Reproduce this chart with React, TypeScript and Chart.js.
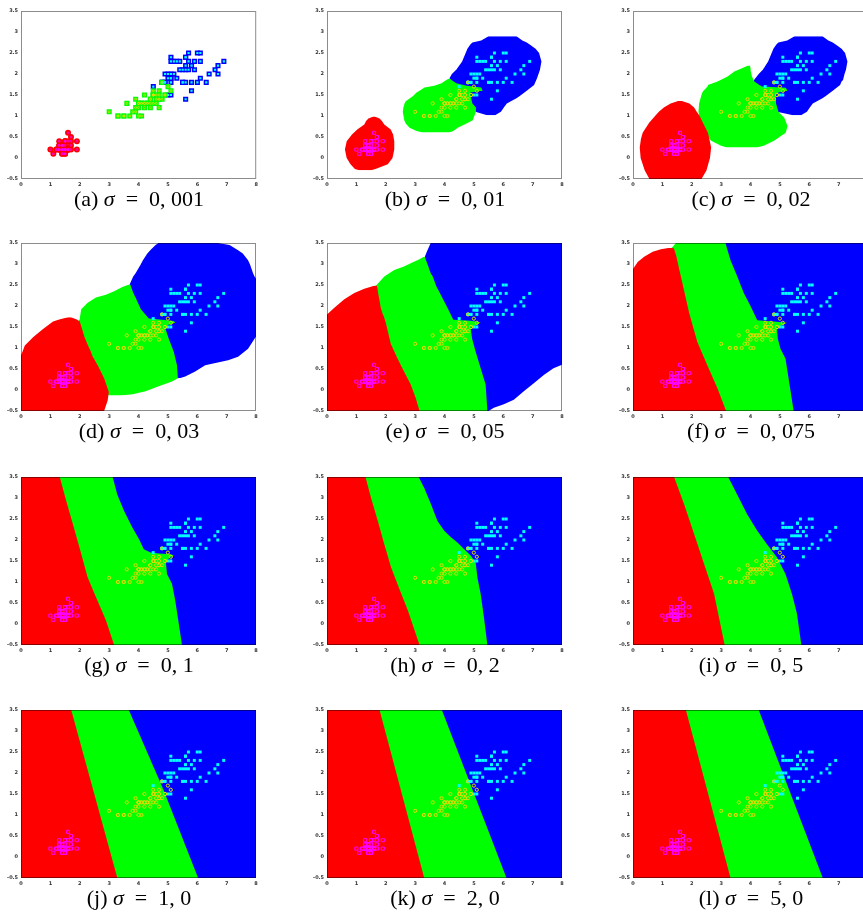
import React, { useEffect, useRef } from 'react';
import { Chart, registerables } from 'chart.js';
Chart.register(...registerables);

// ---------- axes ----------
const X_TICKS = [0, 1, 2, 3, 4, 5, 6, 7, 8];
const X_TICK_LABELS = ['0', '1', '2', '3', '4', '5', '6', '7', '8'];
const Y_TICKS = [-0.5, 0, 0.5, 1, 1.5, 2, 2.5, 3, 3.5];
const Y_TICK_LABELS = ['-0.5', '0', '0.5', '1', '1.5', '2', '2.5', '3', '3.5'];

// ---------- data points (petal length, petal width) ----------
const SETOSA_LEN = [1.4,1.4,1.3,1.5,1.4,1.7,1.4,1.5,1.4,1.5,1.5,1.6,1.4,1.1,1.2,1.5,1.3,1.4,1.7,1.5,1.7,1.5,1.0,1.7,1.9,1.6,1.6,1.5,1.4,1.6,1.6,1.5,1.5,1.4,1.5,1.2,1.3,1.4,1.3,1.5,1.3,1.3,1.3,1.6,1.9,1.4,1.6,1.4,1.5,1.4];
const SETOSA_WID = [0.2,0.2,0.2,0.2,0.2,0.4,0.3,0.2,0.2,0.1,0.2,0.2,0.1,0.1,0.2,0.4,0.4,0.3,0.3,0.3,0.2,0.4,0.2,0.5,0.2,0.2,0.4,0.2,0.2,0.2,0.2,0.4,0.1,0.2,0.2,0.2,0.2,0.1,0.2,0.2,0.3,0.3,0.2,0.6,0.4,0.3,0.2,0.2,0.2,0.2];
const VERSI_LEN = [4.7,4.5,4.9,4.0,4.6,4.5,4.7,3.3,4.6,3.9,3.5,4.2,4.0,4.7,3.6,4.4,4.5,4.1,4.5,3.9,4.8,4.0,4.9,4.7,4.3,4.4,4.8,5.0,4.5,3.5,3.8,3.7,3.9,5.1,4.5,4.5,4.7,4.4,4.1,4.0,4.4,4.6,4.0,3.3,4.2,4.2,4.2,4.3,3.0,4.1];
const VERSI_WID = [1.4,1.5,1.5,1.3,1.5,1.3,1.6,1.0,1.3,1.4,1.0,1.5,1.0,1.4,1.3,1.4,1.5,1.0,1.5,1.1,1.8,1.3,1.5,1.2,1.3,1.4,1.4,1.7,1.5,1.0,1.1,1.0,1.2,1.6,1.5,1.6,1.5,1.3,1.3,1.3,1.2,1.4,1.2,1.0,1.3,1.2,1.3,1.3,1.1,1.3];
const VIRG_LEN = [6.0,5.1,5.9,5.6,5.8,6.6,4.5,6.3,5.8,6.1,5.1,5.3,5.5,5.0,5.1,5.3,5.5,6.7,6.9,5.0,5.7,4.9,6.7,4.9,5.7,6.0,4.8,4.9,5.6,5.8,6.1,6.4,5.6,5.1,5.6,6.1,5.6,5.5,4.8,5.4,5.6,5.1,5.1,5.9,5.7,5.2,5.0,5.2,5.4,5.1];
const VIRG_WID = [2.5,1.9,2.1,1.8,2.2,2.1,1.7,1.8,1.8,2.5,2.0,1.9,2.1,2.0,2.4,2.3,1.8,2.2,2.3,1.5,2.3,2.0,2.0,1.8,2.1,1.8,1.8,1.8,2.1,1.6,1.9,2.0,2.2,1.5,1.4,2.3,2.4,1.8,1.8,2.1,2.4,2.3,1.9,2.3,2.5,2.3,1.9,2.0,2.3,1.8];

// ---------- panels ----------
const PANEL_LETTERS = ['a','b','c','d','e','f','g','h','i','j','k','l'];
const PANEL_SIGMAS = ['0, 001','0, 01','0, 02','0, 03','0, 05','0, 075','0, 1','0, 2','0, 5','1, 0','2, 0','5, 0'];

// ---------- decision regions, rows of [y, xLeft, xRight] ----------
const B_RED = [[-0.29,1.1,1.5],[-0.26,0.95,1.65],[-0.15,0.8,2.07],[0.0,0.67,2.23],[0.2,0.61,2.29],[0.4,0.67,2.29],[0.56,0.85,2.25],[0.68,1.03,2.17],[0.8,1.27,1.95],[0.88,1.33,1.87],[0.94,1.41,1.79],[0.99,1.58,1.62]];
const B_GREEN = [[0.61,3.25,4.15],[0.64,3.05,4.3],[0.72,2.81,4.45],[0.82,2.68,4.75],[0.9,2.63,4.96],[1.1,2.58,5.07],[1.2,2.6,5.07],[1.3,2.64,4.95],[1.35,2.68,4.93],[1.47,2.92,4.9],[1.56,3.05,4.88],[1.6,3.15,5.3],[1.68,3.32,5.25],[1.72,3.65,4.75],[1.78,3.9,4.4],[1.85,4.05,4.25],[1.89,4.15,4.18]];
const B_BLUE = [[1.02,5.45,5.72],[1.1,5.05,5.92],[1.2,4.9,6.02],[1.3,4.85,6.12],[1.42,4.85,6.45],[1.47,4.8,6.55],[1.6,4.7,6.8],[1.74,4.3,7.05],[1.9,4.17,7.15],[2.0,4.25,7.2],[2.1,4.4,7.25],[2.3,4.6,7.3],[2.5,4.72,7.22],[2.6,4.78,7.1],[2.7,4.88,6.9],[2.75,4.95,6.8],[2.8,5.25,6.65],[2.9,5.5,6.45]];

const C_RED = [[-0.5,0.56,2.33],[-0.3,0.4,2.5],[0.0,0.26,2.62],[0.25,0.23,2.66],[0.45,0.27,2.6],[0.6,0.33,2.55],[0.84,0.55,2.38],[1.0,0.75,2.27],[1.1,0.88,2.17],[1.2,1.05,2.08],[1.3,1.28,1.92],[1.36,1.55,1.65]];
const C_GREEN = [[0.25,3.2,4.2],[0.29,3.0,4.45],[0.41,2.66,4.8],[0.6,2.43,5.2],[0.76,2.33,5.26],[0.96,2.26,5.15],[1.1,2.23,4.95],[1.3,2.25,4.87],[1.5,2.33,4.86],[1.56,2.36,4.95],[1.6,2.4,5.26],[1.67,2.5,5.2],[1.7,2.52,4.4],[1.74,2.55,4.3],[1.82,2.88,4.13],[1.94,3.22,4.05],[2.06,3.45,4.01],[2.14,3.73,4.0],[2.2,3.92,3.98]];
const C_BLUE = [[1.02,5.45,5.72],[1.1,4.9,5.92],[1.2,4.8,6.02],[1.3,4.7,6.12],[1.42,4.6,6.45],[1.47,4.6,6.55],[1.6,4.4,6.8],[1.74,4.2,7.05],[1.82,4.1,7.1],[1.86,4.12,7.15],[2.0,4.28,7.2],[2.1,4.42,7.25],[2.3,4.6,7.3],[2.5,4.72,7.22],[2.6,4.78,7.1],[2.7,4.88,6.9],[2.75,4.95,6.8],[2.8,5.25,6.65],[2.9,5.5,6.45]];

const D_RED = [[-0.5,-0.1,2.83],[-0.25,-0.1,2.95],[-0.05,-0.1,2.99],[0.28,-0.1,2.83],[0.59,-0.1,2.61],[0.8,-0.1,2.44],[0.83,0.0,2.42],[0.91,0.05,2.38],[1.06,0.13,2.28],[1.26,0.42,2.16],[1.45,0.75,2.08],[1.63,1.09,2.0],[1.68,1.3,1.9],[1.73,1.6,1.7]];
const D_GREEN = [[-0.13,2.9,3.4],[-0.1,2.9,3.8],[-0.03,2.9,4.24],[0.09,2.8,4.69],[0.2,2.7,5.14],[0.28,2.6,5.34],[0.59,2.4,5.31],[0.91,2.2,5.2],[1.22,2.0,5.03],[1.45,1.9,4.92],[1.55,1.9,5.0],[1.6,1.9,5.25],[1.64,1.95,5.2],[1.67,1.98,4.8],[1.7,2.0,4.35],[1.88,2.04,4.13],[1.92,2.05,4.08],[2.08,2.27,3.98],[2.2,2.55,3.9],[2.27,2.89,3.85],[2.35,3.17,3.8],[2.45,3.45,3.75],[2.51,3.68,3.72]];
const D_BLUE = [[0.28,5.3,5.4],[0.32,5.25,5.59],[0.44,5.2,5.93],[0.59,5.1,6.27],[0.71,4.8,7.05],[0.79,4.5,7.39],[0.98,4.0,7.73],[1.22,3.8,7.95],[1.38,3.7,8.1],[2.51,3.7,8.1],[2.55,3.72,8.1],[2.7,3.82,7.95],[2.78,3.9,7.9],[2.98,4.07,7.8],[3.09,4.15,7.73],[3.25,4.3,7.55],[3.33,4.4,7.39],[3.45,4.58,7.1],[3.5,4.68,6.7]];

const E_RED = [[-0.5,-0.1,3.15],[-0.19,-0.1,3.02],[0.13,-0.1,2.85],[0.44,-0.1,2.62],[0.75,-0.1,2.4],[1.1,-0.1,2.17],[1.61,-0.1,2.0],[1.78,-0.1,1.92],[1.8,0.0,1.9],[1.96,0.25,1.83],[2.16,0.59,1.78],[2.31,0.93,1.74],[2.41,1.27,1.72],[2.47,1.55,1.7],[2.49,1.65,1.7]];
const E_GREEN = [[-0.5,3.0,5.46],[0.13,2.8,5.4],[0.91,2.0,5.06],[1.22,1.8,4.94],[1.49,1.7,4.89],[1.55,1.7,5.1],[1.61,1.7,5.23],[1.65,1.7,4.9],[1.67,1.7,4.3],[1.96,1.7,4.1],[2.35,1.65,3.81],[2.47,1.65,3.72],[2.7,1.95,3.6],[2.78,2.12,3.53],[2.86,2.29,3.49],[2.94,2.62,3.45],[3.02,2.85,3.41],[3.11,3.13,3.36],[3.17,3.3,3.33]];
const E_BLUE = [[-0.5,5.4,5.5],[-0.42,5.3,5.68],[-0.34,5.15,6.02],[-0.23,4.95,6.36],[-0.03,4.55,6.7],[0.16,4.2,7.04],[0.36,3.8,7.38],[0.52,3.5,7.71],[0.63,3.5,8.1],[3.17,3.33,8.1],[3.33,3.42,8.1],[3.5,3.53,8.1]];

const F_RED = [[-0.5,-0.1,3.17],[0.05,-0.1,2.87],[0.59,-0.1,2.53],[1.14,-0.1,2.19],[1.84,-0.1,1.91],[2.7,-0.1,1.63],[2.88,0.0,1.57],[3.05,0.16,1.52],[3.17,0.38,1.48],[3.29,0.67,1.43],[3.35,0.95,1.4],[3.38,1.2,1.38]];
const F_GREEN = [[-0.5,3.0,5.47],[0.75,2.3,5.19],[0.98,2.1,5.02],[1.22,2.0,4.93],[1.49,1.8,4.9],[1.55,1.8,5.1],[1.6,1.8,5.24],[1.63,1.8,4.8],[1.66,1.8,4.23],[2.0,1.6,4.0],[2.31,1.5,3.77],[2.7,1.4,3.55],[3.09,1.3,3.32],[3.37,1.3,3.2],[3.5,1.46,3.15]];
const F_BLUE = [[-0.5,5.4,8.1],[0.75,5.0,8.1],[1.49,4.5,8.1],[1.66,4.1,8.1],[2.0,3.9,8.1],[2.31,3.7,8.1],[2.7,3.45,8.1],[3.09,3.2,8.1],[3.5,3.05,8.1]];

// full-height boundaries, rows of [y, x]
const G_RED_GREEN = [[-0.5,3.17],[0.09,2.89],[0.64,2.55],[1.11,2.27],[1.82,1.99],[2.37,1.77],[2.93,1.54],[3.5,1.32]];
const G_GREEN_BLUE = [[-0.5,5.48],[0.01,5.37],[0.56,5.25],[0.96,5.14],[1.19,4.97],[1.49,4.93],[1.57,5.05],[1.63,5.2],[1.66,5.1],[1.68,4.7],[1.7,4.41],[1.78,4.18],[2.02,4.02],[2.3,3.79],[2.69,3.51],[3.08,3.28],[3.5,3.12]];
const H_RED_GREEN = [[-0.5,3.15],[0.33,2.75],[0.84,2.46],[1.35,2.18],[1.9,1.95],[2.45,1.73],[3.0,1.5],[3.5,1.31]];
const H_GREEN_BLUE = [[-0.5,5.46],[0.17,5.34],[0.72,5.23],[1.11,5.12],[1.47,5.06],[1.63,4.89],[1.78,4.67],[1.94,4.44],[2.07,4.21],[2.22,3.99],[2.45,3.76],[2.85,3.54],[3.24,3.31],[3.5,3.12]];
const I_RED_GREEN = [[-0.5,3.12],[0.72,2.76],[1.43,2.42],[2.14,2.08],[2.85,1.74],[3.5,1.4]];
const I_GREEN_BLUE = [[-0.5,5.73],[0.25,5.58],[0.72,5.41],[1.19,5.19],[1.59,4.9],[1.9,4.56],[2.22,4.23],[2.61,3.89],[3.08,3.55],[3.5,3.24]];
const J_RED_GREEN = [[-0.5,3.28],[3.5,1.71]];
const J_GREEN_BLUE = [[-0.5,6.03],[1.6,4.85],[3.5,3.67]];
const K_RED_GREEN = [[-0.5,3.31],[3.5,1.79]];
const K_GREEN_BLUE = [[-0.5,6.11],[3.5,3.91]];
const L_RED_GREEN = [[-0.5,3.32],[3.5,1.8]];
const L_GREEN_BLUE = [[-0.5,6.46],[3.5,4.28]];
const FULL_PLOT = [[-0.5,-0.1,8.1],[3.5,-0.1,8.1]];

const RED = '#ff0000';
const GREEN = '#00ff00';
const BLUE = '#0000ff';

const leftOf = (b: number[][]) => b.map(([y, x]) => [y, -0.1, x]);

const PANEL_REGIONS: [number[][], string][][] = [
  [],
  [[B_BLUE, BLUE], [B_GREEN, GREEN], [B_RED, RED]],
  [[C_BLUE, BLUE], [C_GREEN, GREEN], [C_RED, RED]],
  [[D_BLUE, BLUE], [D_GREEN, GREEN], [D_RED, RED]],
  [[E_BLUE, BLUE], [E_GREEN, GREEN], [E_RED, RED]],
  [[F_BLUE, BLUE], [F_GREEN, GREEN], [F_RED, RED]],
  [[FULL_PLOT, BLUE], [leftOf(G_GREEN_BLUE), GREEN], [leftOf(G_RED_GREEN), RED]],
  [[FULL_PLOT, BLUE], [leftOf(H_GREEN_BLUE), GREEN], [leftOf(H_RED_GREEN), RED]],
  [[FULL_PLOT, BLUE], [leftOf(I_GREEN_BLUE), GREEN], [leftOf(I_RED_GREEN), RED]],
  [[FULL_PLOT, BLUE], [leftOf(J_GREEN_BLUE), GREEN], [leftOf(J_RED_GREEN), RED]],
  [[FULL_PLOT, BLUE], [leftOf(K_GREEN_BLUE), GREEN], [leftOf(K_RED_GREEN), RED]],
  [[FULL_PLOT, BLUE], [leftOf(L_GREEN_BLUE), GREEN], [leftOf(L_RED_GREEN), RED]],
];

// ---------- layout ----------
const COL_LEFT = [21, 327, 633];
const ROW_TOP = [9, 241, 475, 708];
const PLOT_W = 236;
const PLOT_H = 170;
const AXIS_W = 20;
const AXIS_H = 12;
const PAD_T = 4;
const PAD_R = 4;

const pts = (xs: number[], ys: number[]) => xs.map((x, i) => ({ x, y: ys[i] }));

const framePlugin = {
  id: 'frame',
  afterDatasetsDraw(chart: any) {
    const { ctx, chartArea: a } = chart;
    ctx.save();
    ctx.strokeStyle = 'rgba(0,0,0,0.45)';
    ctx.lineWidth = 1;
    ctx.strokeRect(a.left + 0.5, a.top + 0.5, a.right - a.left - 1, a.bottom - a.top - 1);
    ctx.restore();
  },
};

function Panel({ index }: { index: number }) {
  const ref = useRef<HTMLCanvasElement | null>(null);
  useEffect(() => {
    const canvas = ref.current;
    if (!canvas) return;
    const datasets: any[] = [];
    PANEL_REGIONS[index].forEach(([rows, color], li) => {
      const order = 100 - li * 10;
      datasets.push({
        data: rows.map((r) => ({ x: r[1], y: r[0] })),
        fill: '+1', backgroundColor: color, borderColor: color, borderWidth: 0,
        pointRadius: 0, pointHoverRadius: 0, order,
      });
      datasets.push({
        data: rows.map((r) => ({ x: r[2], y: r[0] })),
        fill: false, borderWidth: 0, pointRadius: 0, pointHoverRadius: 0, order,
      });
    });
    const small = index === 0;
    if (small) {
      datasets.push({ data: pts(SETOSA_LEN, SETOSA_WID), showLine: false, pointStyle: 'circle', pointRadius: 3, pointBorderWidth: 0, pointBackgroundColor: RED, order: 5 });
      datasets.push({ data: pts(VERSI_LEN, VERSI_WID), showLine: false, pointStyle: 'rect', pointRadius: 3.6, pointBorderWidth: 0, pointBackgroundColor: GREEN, order: 5 });
      datasets.push({ data: pts(VIRG_LEN, VIRG_WID), showLine: false, pointStyle: 'rect', pointRadius: 3.6, pointBorderWidth: 0, pointBackgroundColor: BLUE, order: 5 });
    }
    datasets.push({ data: pts(SETOSA_LEN, SETOSA_WID), showLine: false, pointStyle: 'rect', pointRadius: small ? 1.1 : 2.2, pointBorderWidth: small ? 0.7 : 1, pointBorderColor: '#ff00ff', pointBackgroundColor: 'rgba(0,0,0,0)', order: 0 });
    datasets.push({ data: pts(VERSI_LEN, VERSI_WID), showLine: false, pointStyle: 'circle', pointRadius: small ? 1.0 : 1.6, pointBorderWidth: small ? 0.8 : 1, pointBorderColor: '#dede00', pointBackgroundColor: 'rgba(0,0,0,0)', order: 0 });
    datasets.push({ data: pts(VIRG_LEN, VIRG_WID), showLine: false, pointStyle: 'rect', pointRadius: small ? 1.5 : 2.1, pointBorderWidth: 0, pointBackgroundColor: '#00ffff', order: 0 });

    const tickFont = { family: 'DejaVu Sans', size: 5, weight: 'bold' as const };
    const chart = new Chart(canvas, {
      type: 'line',
      data: { datasets },
      options: {
        animation: false,
        responsive: false,
        indexAxis: 'y',
        events: [],
        layout: { padding: { top: PAD_T, right: PAD_R, left: 0, bottom: 0 } },
        plugins: { legend: { display: false }, tooltip: { enabled: false }, filler: { propagate: false } },
        scales: {
          x: {
            type: 'linear', min: 0, max: 8, position: 'bottom',
            grid: { display: false, drawTicks: false }, border: { display: false },
            afterBuildTicks: (s: any) => { s.ticks = X_TICKS.map((v) => ({ value: v })); },
            afterFit: (s: any) => { s.height = AXIS_H; },
            ticks: { font: tickFont, color: '#333', padding: 3, maxRotation: 0, autoSkip: false,
              callback: (v: any) => { const i = X_TICKS.indexOf(Number(v)); return i >= 0 ? X_TICK_LABELS[i] : ''; } },
          },
          y: {
            type: 'linear', min: -0.5, max: 3.5, position: 'left',
            grid: { display: false, drawTicks: false }, border: { display: false },
            afterBuildTicks: (s: any) => { s.ticks = Y_TICKS.map((v) => ({ value: v })); },
            afterFit: (s: any) => { s.width = AXIS_W; },
            ticks: { font: tickFont, color: '#333', padding: 3, autoSkip: false,
              callback: (v: any) => { const i = Y_TICKS.indexOf(Number(v)); return i >= 0 ? Y_TICK_LABELS[i] : ''; } },
          },
        },
      } as any,
      plugins: [framePlugin],
    });
    return () => chart.destroy();
  }, [index]);

  const col = index % 3;
  const row = Math.floor(index / 3);
  const left = COL_LEFT[col];
  const top = ROW_TOP[row];
  const W = AXIS_W + PLOT_W + PAD_R;
  const H = PAD_T + PLOT_H + AXIS_H;
  return (
    <>
      <canvas ref={ref} width={W} height={H}
        style={{ position: 'absolute', left: left - AXIS_W, top: top - PAD_T, width: W, height: H, display: 'block' }} />
      <div style={{ position: 'absolute', left: left + PLOT_W / 2 - 120, width: 240, top: top + PLOT_H + 20 - 13,
        textAlign: 'center', fontFamily: '"Liberation Serif", serif', fontSize: 22, lineHeight: '26px', whiteSpace: 'nowrap', color: '#000' }}>
        ({PANEL_LETTERS[index]}){'\u00a0'}<i>σ</i>{'\u2002=\u2002'}{PANEL_SIGMAS[index]}
      </div>
    </>
  );
}

export default function App() {
  return (
    <div style={{ position: 'absolute', left: 0, top: 0, width: 863, height: 912, overflow: 'hidden', background: '#fff' }}>
      {PANEL_LETTERS.map((_, i) => <Panel key={i} index={i} />)}
    </div>
  );
}
